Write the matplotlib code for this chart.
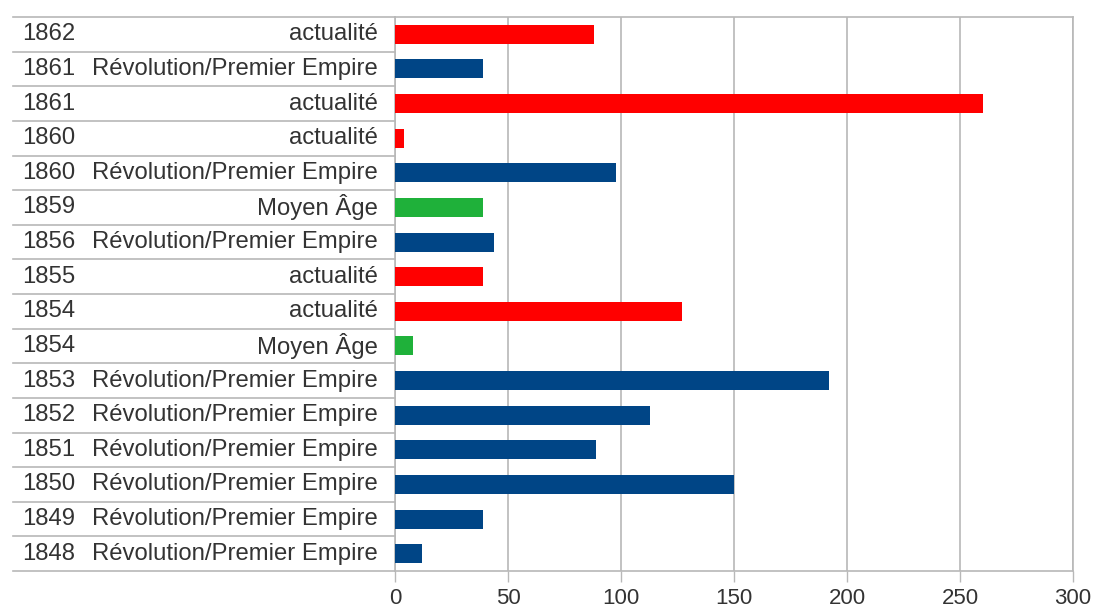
import matplotlib

matplotlib.use("Agg")
import matplotlib.pyplot as plt  # noqa: E402
import matplotlib.transforms as mtransforms  # noqa: E402

# valeurs, de haut en bas
years = ["1862", "1861", "1861", "1860", "1860", "1859", "1856", "1855",
         "1854", "1854", "1853", "1852", "1851", "1850", "1849", "1848"]
periods = ["actualité", "Révolution/Premier Empire", "actualité", "actualité",
           "Révolution/Premier Empire", "Moyen Âge", "Révolution/Premier Empire",
           "actualité", "actualité", "Moyen Âge", "Révolution/Premier Empire",
           "Révolution/Premier Empire", "Révolution/Premier Empire",
           "Révolution/Premier Empire", "Révolution/Premier Empire",
           "Révolution/Premier Empire"]
values = [88, 39, 260, 4, 98, 39, 44, 39, 127, 8, 192, 113, 89, 150, 39, 12]
x_ticks = [0, 50, 100, 150, 200, 250, 300]

colors = {
    "actualité": "#ff0000",
    "Révolution/Premier Empire": "#004586",
    "Moyen Âge": "#1fb13a",
}
grid_color = "#b8b8b8"
text_color = "#333333"

plt.rcParams["font.family"] = ["Liberation Sans", "DejaVu Sans"]

W, H = 1094, 613
fig = plt.figure(figsize=(W / 100, H / 100), dpi=100)
ax = fig.add_axes([395 / W, 1 - 571 / H, (1073 - 395) / W, (571 - 17) / H])

n = len(values)
pos = list(range(n))
ax.barh(pos, values, height=0.55, color=[colors[p] for p in periods], zorder=3)
ax.set_ylim(n - 0.5, -0.5)
ax.set_xlim(0, 300)
ax.set_xticks(x_ticks)
ax.set_xticklabels([str(t) for t in x_ticks], fontsize=16, color=text_color)
ax.tick_params(axis="x", direction="out", length=8, width=1, color=grid_color, pad=4)
ax.set_yticks([])
ax.grid(axis="x", color=grid_color, linewidth=1.2, zorder=0)
for side in ["top", "bottom", "left", "right"]:
    ax.spines[side].set_color(grid_color)
    ax.spines[side].set_linewidth(1.2)

# tableau des libellés à gauche
trans = mtransforms.blended_transform_factory(fig.transFigure, ax.transData)
x0, x1 = 13 / W, 395 / W
for i in range(n + 1):
    ax.plot([x0, x1], [i - 0.5, i - 0.5], transform=trans, color=grid_color,
            linewidth=1.2, clip_on=False, zorder=1)
for i, (yr, per) in enumerate(zip(years, periods)):
    ax.text(22 / W, i, yr, transform=trans, ha="left", va="center",
            fontsize=17.2, color=text_color)
    ax.text(378 / W, i, per, transform=trans, ha="right", va="center",
            fontsize=17.2, color=text_color)

fig.savefig("out.png", dpi=100)
